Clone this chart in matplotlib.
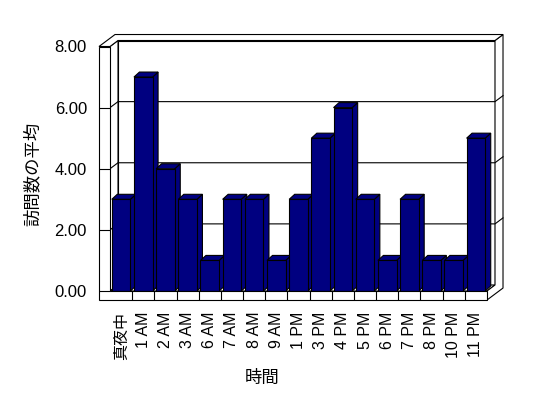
import numpy as np
import matplotlib.pyplot as plt
from matplotlib.patches import Polygon

# data
hours = ['真夜中', '1 AM', '2 AM', '3 AM', '6 AM', '7 AM', '8 AM', '9 AM',
         '1 PM', '3 PM', '4 PM', '5 PM', '6 PM', '7 PM', '8 PM', '10 PM', '11 PM']
visits = [3, 7, 4, 3, 1, 3, 3, 1, 3, 5, 6, 3, 1, 3, 1, 1, 5]
yticks = [0, 2, 4, 6, 8]

plt.rcParams['font.family'] = ['Liberation Sans', 'Noto Sans CJK JP']

fig = plt.figure(figsize=(5.48, 3.98), dpi=100)
ax = fig.add_axes([110/548, 107/398, 377/548, 244.5/398])
n = len(hours)
ax.set_xlim(-0.5, n - 0.5)
ax.set_ylim(0, yticks[-1])
for s in ax.spines.values():
    s.set_visible(False)
ax.patch.set_visible(False)

navy = '#000080'
lw = 0.8

def poly(pts, fc='white', z=1):
    ax.add_patch(Polygon(pts, closed=True, facecolor=fc, edgecolor='black',
                         lw=lw, zorder=z, clip_on=False, joinstyle='miter'))

# 3d box geometry (data units)
x0, x1 = -0.5, n - 0.5
dx, dy = 0.361, 0.196      # depth of the room
wt, ft = 0.496, 0.295      # wall / floor thickness
top = yticks[-1]

# back wall, left wall inner face, floor top
poly([(x0 + dx, dy), (x1 + dx, dy), (x1 + dx, top + dy), (x0 + dx, top + dy)])
poly([(x0, 0), (x0, top), (x0 + dx, top + dy), (x0 + dx, dy)])
poly([(x0, 0), (x1, 0), (x1 + dx, dy), (x0 + dx, dy)])
# right end of the slabs
poly([(x1, 0), (x1, -ft), (x1 + 2*dx, -ft + 2*dy), (x1 + 2*dx, top + 2*dy),
      (x1 + dx, top + dy), (x1 + dx, dy)])
# top of walls
poly([(x0 - wt, top), (x0, top), (x0 + dx, top + dy), (x1 + dx, top + dy),
      (x1 + 2*dx, top + 2*dy), (x0 - wt + 2*dx, top + 2*dy)])

# gridlines
for v in yticks[1:-1]:
    ax.plot([x0, x0 + dx, x1 + dx, x1 + 2*dx], [v, v + dy, v + dy, v + 2*dy],
            color='black', lw=lw, zorder=1.5, clip_on=False)

# bars
w = 0.84
bdx, bdy = 0.248, 0.164
bars = ax.bar(range(n), visits, width=w, color=navy, edgecolor='black', lw=lw)
for i, (r, v) in enumerate(zip(bars, visits)):
    z = 3 + i * 0.1
    r.set_zorder(z + 0.05)
    xl, xr = i - w/2, i + w/2
    poly([(xr, 0), (xr, v), (xr + bdx, v + bdy), (xr + bdx, bdy)], fc=navy, z=z)
    poly([(xl, v), (xr, v), (xr + bdx, v + bdy), (xl + bdx, v + bdy)], fc=navy, z=z)

# floor front face + left wall front face
poly([(x0 - wt, -ft), (x1, -ft), (x1, 0), (x0, 0), (x0, top), (x0 - wt, top)], z=6)
ax.vlines(np.arange(n - 1) + 0.5, -ft, 0, color='black', lw=lw, zorder=7, clip_on=False)
ax.hlines(yticks[:-1], x0 - wt, x0, color='black', lw=lw, zorder=7, clip_on=False)

ax.set_yticks(yticks, [f'{v:.2f}' for v in yticks])
ax.tick_params(axis='y', length=0, pad=16.6, labelsize=12)
ax.set_xticks(range(n), hours, rotation=90)
ax.tick_params(axis='x', length=0, pad=15, labelsize=11.5)

fig.text(32/548, 1 - 174/398, '訪問数の平均', rotation=90, ha='center', va='center', fontsize=12.5)
fig.text(262/548, 1 - 378/398, '時間', ha='center', va='center', fontsize=12.5)

fig.savefig('out.png', dpi=100)
